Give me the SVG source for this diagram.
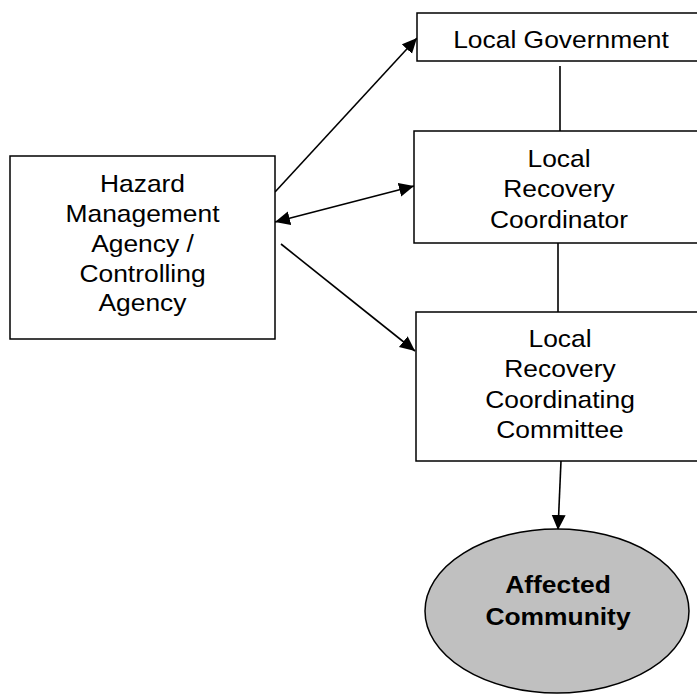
<svg xmlns="http://www.w3.org/2000/svg" width="697" height="695" viewBox="0 0 697 695">
<style>
.box{fill:#fff;stroke:#000;stroke-width:1.5}
.ell{fill:#c0c0c0;stroke:#000;stroke-width:1.5}
.t{font-family:"Liberation Sans",Arial,sans-serif;font-size:24px;text-anchor:middle;fill:#000}
.b{font-weight:bold}
.c{stroke:#000;stroke-width:1.6;fill:none}
</style>
<defs>
<marker id="ah" markerUnits="userSpaceOnUse" markerWidth="18" markerHeight="16" refX="15" refY="7" orient="auto-start-reverse">
<path d="M0,0 L15,7 L0,14 Z" fill="#000"/>
</marker>
</defs>
<rect width="697" height="695" fill="#fff"/>
<g id="connectors">
<line class="c" x1="275" y1="192" x2="417" y2="38" marker-end="url(#ah)"/>
<line class="c" x1="275" y1="222" x2="414" y2="186" marker-start="url(#ah)" marker-end="url(#ah)"/>
<line class="c" x1="281" y1="244" x2="415" y2="351" marker-end="url(#ah)"/>
<line class="c" x1="560" y1="66" x2="560" y2="137"/>
<line class="c" x1="558" y1="243" x2="558" y2="312"/>
<line class="c" x1="561" y1="461" x2="558" y2="530" marker-end="url(#ah)"/>
</g>
<g id="hazard">
<rect class="box" x="10" y="156" width="265" height="183"/>
<text class="t" transform="translate(142.5,192) scale(1.1 1)">Hazard</text>
<text class="t" transform="translate(142.5,222) scale(1.1 1)">Management</text>
<text class="t" transform="translate(142.5,252) scale(1.1 1)">Agency /</text>
<text class="t" transform="translate(142.5,282) scale(1.1 1)">Controlling</text>
<text class="t" transform="translate(142.5,311) scale(1.1 1)">Agency</text>
</g>
<g id="local-government">
<rect class="box" x="417" y="13" width="290" height="48"/>
<text class="t" transform="translate(561,48) scale(1.1 1)">Local Government</text>
</g>
<g id="local-recovery-coordinator">
<rect class="box" x="414" y="131" width="293" height="112"/>
<text class="t" transform="translate(559,167) scale(1.1 1)">Local</text>
<text class="t" transform="translate(559,197) scale(1.1 1)">Recovery</text>
<text class="t" transform="translate(559,228) scale(1.1 1)">Coordinator</text>
</g>
<g id="local-recovery-coordinating-committee">
<rect class="box" x="416" y="312" width="291" height="149"/>
<text class="t" transform="translate(560,347) scale(1.1 1)">Local</text>
<text class="t" transform="translate(560,377) scale(1.1 1)">Recovery</text>
<text class="t" transform="translate(560,408) scale(1.1 1)">Coordinating</text>
<text class="t" transform="translate(560,438) scale(1.1 1)">Committee</text>
</g>
<g id="affected-community">
<ellipse class="ell" cx="557" cy="611" rx="132" ry="82"/>
<text class="t b" transform="translate(558,593) scale(1.1 1)">Affected</text>
<text class="t b" transform="translate(558,625) scale(1.1 1)">Community</text>
</g>
</svg>
